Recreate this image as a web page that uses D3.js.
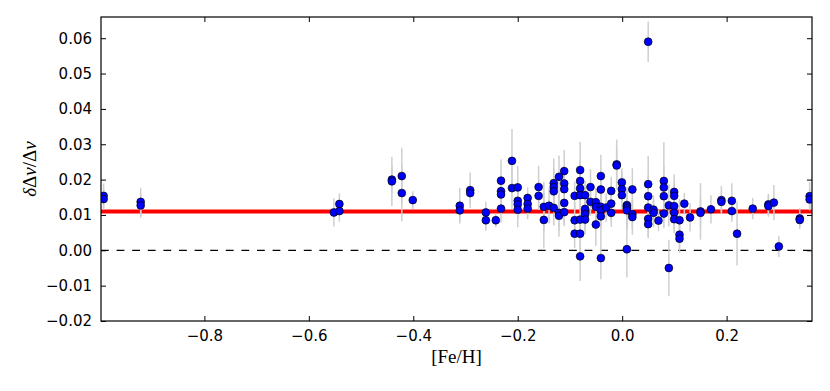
<!DOCTYPE html>
<html><head><meta charset="utf-8">
<script src="https://cdn.jsdelivr.net/npm/d3@7"></script>
<style>body{margin:0;background:#fff;} svg{display:block;}</style>
</head><body>
<svg id="c" width="830" height="391"></svg>
<script>
// [Fe/H] values
const feh = [
 -0.993,-0.993, -0.922,-0.922, -0.552, -0.5415,-0.5415, -0.441,-0.441, -0.422,-0.422, -0.401,
 -0.311,-0.311, -0.291,-0.291, -0.261,-0.261, -0.242,
 -0.232,-0.232,-0.232,-0.232, -0.211,-0.211,
 -0.200,-0.200,-0.200,-0.200, -0.181,-0.181,-0.181, -0.160,-0.160, -0.150,-0.150, -0.140,
 -0.131,-0.131,-0.131,-0.131, -0.121,-0.121,-0.121,
 -0.111,-0.111,-0.111,-0.111,-0.111, -0.091,-0.091,-0.091,
 -0.0805,-0.0805,-0.0805,-0.0805,-0.0805,-0.0805,-0.0805,
 -0.071,-0.071,-0.071,-0.071, -0.0607,-0.0607, -0.0504,-0.0504,-0.0504,
 -0.0408,-0.0408,-0.0408,-0.0408,-0.0408,-0.0408, -0.0307, -0.021,-0.021,-0.021,
 -0.0105,-0.0105, -0.0006,-0.0006,-0.0006,
 0.009,0.009,0.009,0.009,0.009, 0.0195,0.0195,0.0195,
 0.0498,0.0498,0.0498,0.0498,0.0498,0.0498, 0.060,0.060, 0.0695,
 0.0798,0.0798,0.0798,0.0798, 0.0894,0.0894,
 0.0996,0.0996,0.0996,0.0996,0.0996, 0.1098,0.1098,0.1098, 0.119, 0.130,
 0.150,0.150, 0.170, 0.190,0.190, 0.210,0.210, 0.220, 0.250, 0.280,0.280, 0.2905, 0.300,
 0.340,0.340, 0.359,0.359
];
// relative offset delta(Delta nu)/Delta nu
const ratio = [
 0.0154,0.0145, 0.0137,0.0127, 0.0107, 0.0131,0.0111, 0.0200,0.0195, 0.0210,0.0162, 0.0142,
 0.0126,0.0113, 0.0170,0.0162, 0.0107,0.0085, 0.0085,
 0.0197,0.0167,0.0158,0.0118, 0.0253,0.0176,
 0.0178,0.0140,0.0130,0.0115, 0.0148,0.0131,0.0118, 0.0179,0.0154, 0.0123,0.0086, 0.0126,
 0.0190,0.0179,0.0167,0.0120, 0.0208,0.0106,0.0098,
 0.0224,0.0189,0.0173,0.0134,0.0108, 0.0154,0.0085,0.0047,
 0.0227,0.0196,0.0175,0.0156,0.0087,0.0047,-0.0017,
 0.0156,0.0117,0.0102,0.0087, 0.0179,0.0137, 0.0136,0.0123,0.0073,
 0.0210,0.0172,0.0123,0.0113,0.0096,-0.0022, 0.0121, 0.0168,0.0132,0.0106,
 0.0243,0.0240, 0.0192,0.0173,0.0156,
 0.0128,0.0124,0.0119,0.0113,0.0003, 0.0172,0.0102,0.0094,
 0.0590,0.0187,0.0153,0.0121,0.0089,0.0074, 0.0115,0.0106, 0.0084,
 0.0196,0.0178,0.0153,0.0104, 0.0127,-0.0050,
 0.0165,0.0154,0.0125,0.0106,0.0088, 0.0085,0.0044,0.0033, 0.0132, 0.0093,
 0.0110,0.0106, 0.0116, 0.0142,0.0137, 0.0140,0.0111, 0.0047, 0.0118, 0.0130,0.0125, 0.0135, 0.0011,
 0.0090,0.0086, 0.0153,0.0144
];
// 1-sigma uncertainties
const err = [
 0.0035,0.003, 0.004,0.0035, 0.004, 0.003,0.003, 0.004,0.007, 0.008,0.008, 0.0025,
 0.005,0.003, 0.005,0.003, 0.003,0.003, 0.002,
 0.006,0.004,0.005,0.004, 0.009,0.006,
 0.006,0.005,0.004,0.005, 0.003,0.003,0.003, 0.006,0.004, 0.007,0.008, 0.005,
 0.007,0.005,0.004,0.005, 0.006,0.005,0.006,
 0.006,0.005,0.004,0.006,0.004, 0.004,0.005,0.004,
 0.008,0.006,0.005,0.004,0.005,0.005,0.007,
 0.004,0.006,0.004,0.004, 0.005,0.004, 0.004,0.005,0.006,
 0.006,0.005,0.004,0.005,0.006,0.006, 0.004, 0.004,0.005,0.004,
 0.007,0.005, 0.004,0.005,0.004,
 0.005,0.004,0.006,0.005,0.008, 0.006,0.004,0.005,
 0.0057,0.008,0.006,0.005,0.005,0.004, 0.004,0.004, 0.003,
 0.011,0.006,0.005,0.004, 0.006,0.008,
 0.005,0.004,0.006,0.005,0.004, 0.006,0.004,0.004, 0.003, 0.004,
 0.008,0.004, 0.004, 0.004,0.003, 0.005,0.003, 0.009, 0.003, 0.003,0.003, 0.005, 0.003,
 0.003,0.002, 0.004,0.003
];
const meanOffset = 0.011;
const xTicks = [-0.8,-0.6,-0.4,-0.2,0.0,0.2];
const yTicks = [-0.02,-0.01,0.00,0.01,0.02,0.03,0.04,0.05,0.06];

const L=101, R=812, T=17, B=321;
const svg = d3.select("#c");
const x = d3.scaleLinear().domain([-0.998,0.3635]).range([L,R]);
const y = d3.scaleLinear().domain([-0.02,0.066]).range([B,T]);

svg.append("defs").append("clipPath").attr("id","clip")
  .append("rect").attr("x",L).attr("y",T).attr("width",R-L).attr("height",B-T);
const plot = svg.append("g").attr("clip-path","url(#clip)");

// mean offset line
plot.append("line").attr("x1",L).attr("x2",R)
  .attr("y1",y(meanOffset)).attr("y2",y(meanOffset))
  .attr("stroke","#ff0000").attr("stroke-width",4);
// zero line
plot.append("line").attr("x1",L).attr("x2",R)
  .attr("y1",y(0)).attr("y2",y(0))
  .attr("stroke","#000").attr("stroke-width",1.3).attr("stroke-dasharray","7.8,7.8");

const data = feh.map((f,i)=>({f, r:ratio[i], e:err[i]}));
plot.selectAll("line.eb").data(data).join("line").attr("class","eb")
  .attr("x1",d=>x(d.f)).attr("x2",d=>x(d.f))
  .attr("y1",d=>y(d.r-d.e)).attr("y2",d=>y(d.r+d.e))
  .attr("stroke","#cfcfcf").attr("stroke-width",1.5);
plot.selectAll("circle").data(data).join("circle")
  .attr("cx",d=>x(d.f)).attr("cy",d=>y(d.r)).attr("r",3.9)
  .attr("fill","#0000ff").attr("stroke","#000").attr("stroke-width",0.7);

// axes with inward ticks
const tickFont = "'DejaVu Sans', sans-serif";
function styleAxis(g){
  g.select(".domain").remove();
  g.selectAll("line").attr("stroke","#000").attr("stroke-width",1);
  g.selectAll("text").attr("font-family",tickFont).attr("font-size","15px").attr("fill","#000");
}
const xb = svg.append("g").attr("transform",`translate(0,${B})`)
  .call(d3.axisBottom(x).tickValues(xTicks).tickFormat(d3.format(".1f")).tickSizeInner(-5).tickSizeOuter(0).tickPadding(9));
styleAxis(xb);
const xt = svg.append("g").attr("transform",`translate(0,${T})`)
  .call(d3.axisTop(x).tickValues(xTicks).tickFormat("").tickSizeInner(-5).tickSizeOuter(0));
styleAxis(xt);
const yl = svg.append("g").attr("transform",`translate(${L},0)`)
  .call(d3.axisLeft(y).tickValues(yTicks).tickFormat(d3.format(".2f")).tickSizeInner(-5).tickSizeOuter(0).tickPadding(9));
styleAxis(yl);
const yr = svg.append("g").attr("transform",`translate(${R},0)`)
  .call(d3.axisRight(y).tickValues(yTicks).tickFormat("").tickSizeInner(-5).tickSizeOuter(0));
styleAxis(yr);

// frame
svg.append("rect").attr("x",L).attr("y",T).attr("width",R-L).attr("height",B-T)
  .attr("fill","none").attr("stroke","#000").attr("stroke-width",1.2);

// axis labels
const serif = "'Liberation Serif','DejaVu Serif',serif";
svg.append("text").attr("x",(L+R)/2).attr("y",363).attr("text-anchor","middle")
  .attr("font-family",serif).attr("font-size","19px").text("[Fe/H]");
const ylab = svg.append("text").attr("transform",`translate(36,${(T+B)/2}) rotate(-90)`)
  .attr("text-anchor","middle").attr("font-family",serif).attr("font-size","19px");
ylab.append("tspan").attr("font-style","italic").text("δ");
ylab.append("tspan").text("Δ");
ylab.append("tspan").attr("font-style","italic").text("ν");
ylab.append("tspan").text("/Δ");
ylab.append("tspan").attr("font-style","italic").text("ν");
</script>
</body></html>
